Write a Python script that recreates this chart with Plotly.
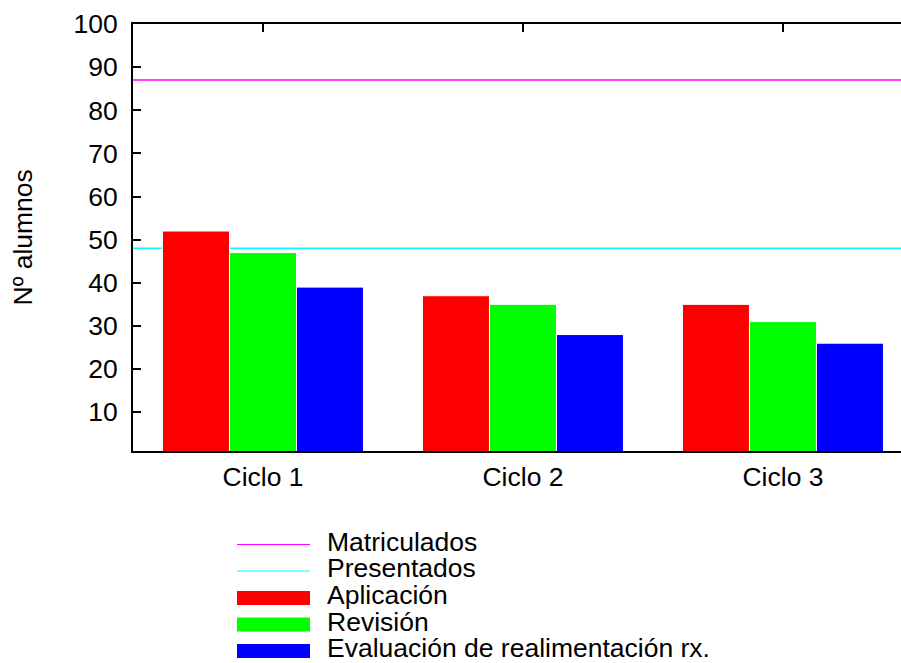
import plotly.graph_objects as go

categories = ["Ciclo 1", "Ciclo 2", "Ciclo 3"]
aplicacion = [52, 37, 35]
revision = [47, 35, 31]
evaluacion = [39, 28, 26]
matriculados = 87
presentados = 48
y_tick_vals = [10, 20, 30, 40, 50, 60, 70, 80, 90, 100]

bar_names = ["Aplicación", "Revisión", "Evaluación de realimentación rx."]
bar_colors = ["#ff0000", "#00ff00", "#0000ff"]
line_names = ["Matriculados", "Presentados"]
line_colors = ["#ff00ff", "#00ffff"]

W, H = 901, 663
ML, MR, MT, MB = 133, 0, 24, 212
PW, PH = W - ML - MR, H - MT - MB
FONT = "Liberation Sans, Arial, sans-serif"
FS = 26.5


def px(x):
    return (x - ML) / PW


def py(y):
    return (H - MB - y) / PH


fig = go.Figure()
for name, vals, color in zip(bar_names, [aplicacion, revision, evaluacion], bar_colors):
    fig.add_trace(go.Bar(
        x=categories, y=vals, name=name,
        marker=dict(color=color, line=dict(color="white", width=1)),
        showlegend=False, hoverinfo="x+y+name",
    ))
# invisible trace that defines the mirrored top axis
fig.add_trace(go.Scatter(x=categories, y=[None] * len(categories), xaxis="x2",
                         showlegend=False, hoverinfo="skip"))

for val, color in zip([matriculados, presentados], line_colors):
    fig.add_shape(type="line", xref="paper", x0=0, x1=1, yref="y", y0=val, y1=val,
                  line=dict(color=color, width=1.5), layer="below")

# legend (manual, gnuplot style)
legend_rows_y = [544.5, 571, 598, 624.5, 651]
TXT_SHIFT = 3
for i, (name, color) in enumerate(zip(line_names, line_colors)):
    yc = legend_rows_y[i]
    fig.add_shape(type="line", xref="paper", yref="paper", x0=px(237), x1=px(310),
                  y0=py(yc), y1=py(yc), line=dict(color=color, width=1.2))
    fig.add_annotation(xref="paper", yref="paper", x=px(325), y=py(yc - TXT_SHIFT),
                       text=name, showarrow=False, xanchor="left", yanchor="middle",
                       font=dict(family=FONT, size=FS, color="black"))
for j, (name, color) in enumerate(zip(bar_names, bar_colors)):
    yc = legend_rows_y[j + 2]
    fig.add_shape(type="rect", xref="paper", yref="paper", x0=px(237), x1=px(310),
                  y0=py(yc - 7), y1=py(yc + 7), line=dict(width=0), fillcolor=color)
    fig.add_annotation(xref="paper", yref="paper", x=px(325), y=py(yc - TXT_SHIFT),
                       text=name, showarrow=False, xanchor="left", yanchor="middle",
                       font=dict(family=FONT, size=FS, color="black"))

fig.add_annotation(xref="paper", yref="paper", x=px(22), y=0.5, text="Nº alumnos",
                   textangle=-90, showarrow=False, xanchor="center", yanchor="middle",
                   font=dict(family=FONT, size=FS, color="black"))

fig.update_layout(
    width=W, height=H,
    margin=dict(l=ML, r=MR, t=MT, b=MB, pad=0),
    paper_bgcolor="white", plot_bgcolor="white",
    font=dict(family=FONT, size=FS, color="black"),
    barmode="group", bargap=0.227, bargroupgap=0,
    showlegend=False,
    xaxis=dict(type="category", range=[-0.5, 2.454], showline=True, linecolor="black",
               linewidth=2, ticks="", showgrid=False, zeroline=False,
               tickfont=dict(size=FS), ticklabelstandoff=1),
    xaxis2=dict(overlaying="x", side="top", matches="x", showline=True, linecolor="black",
                linewidth=2, ticks="inside", ticklen=8, tickwidth=1.5, tickcolor="black",
                showticklabels=False, showgrid=False, zeroline=False),
    yaxis=dict(range=[1, 100], tickvals=y_tick_vals, ticks="inside", ticklen=8,
               tickwidth=1.5, tickcolor="black", showline=True, linecolor="black",
               linewidth=2, showgrid=False, zeroline=False, tickfont=dict(size=FS),
               ticklabelstandoff=8),
)

fig.write_html("out.html")
